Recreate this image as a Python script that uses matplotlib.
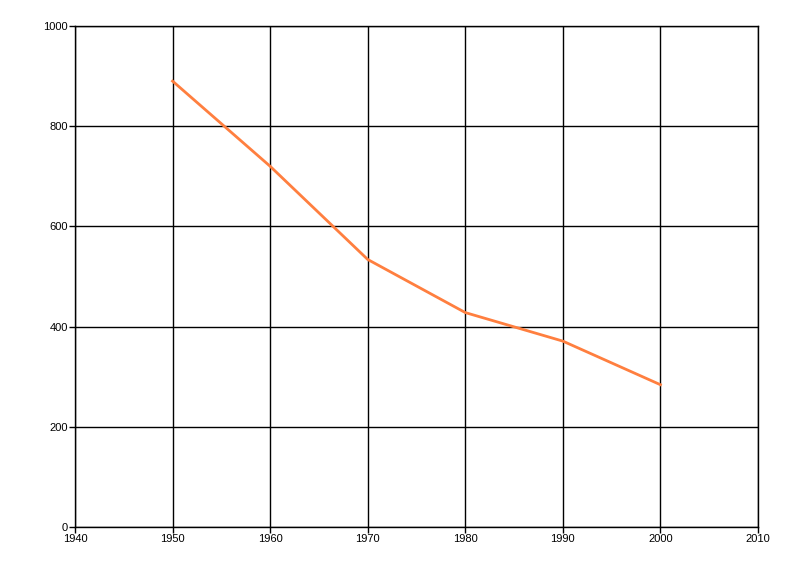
import matplotlib.pyplot as plt

# Data
years = [1950, 1960, 1970, 1980, 1990, 2000]
values = [890, 720, 534, 428, 371, 284]
x_ticks = [1940, 1950, 1960, 1970, 1980, 1990, 2000, 2010]
y_ticks = [0, 200, 400, 600, 800, 1000]

plt.rcParams['font.family'] = ['Liberation Sans', 'DejaVu Sans']

fig = plt.figure(figsize=(8, 5.76), dpi=100)
ax = fig.add_axes([75 / 800, 49 / 576, 683 / 800, 501 / 576])

ax.plot(years, values, color='#FF7F3F', linewidth=2, zorder=3)

ax.set_xlim(1940, 2010)
ax.set_ylim(0, 1000)
ax.set_xticks(x_ticks)
ax.set_yticks(y_ticks)
ax.grid(True, color='black', linewidth=1)
ax.tick_params(axis='both', direction='out', length=4, width=1,
               color='black', labelsize=8, pad=1)
for s in ax.spines.values():
    s.set_color('black')
    s.set_linewidth(1)

plt.savefig('out.png', dpi=100)
